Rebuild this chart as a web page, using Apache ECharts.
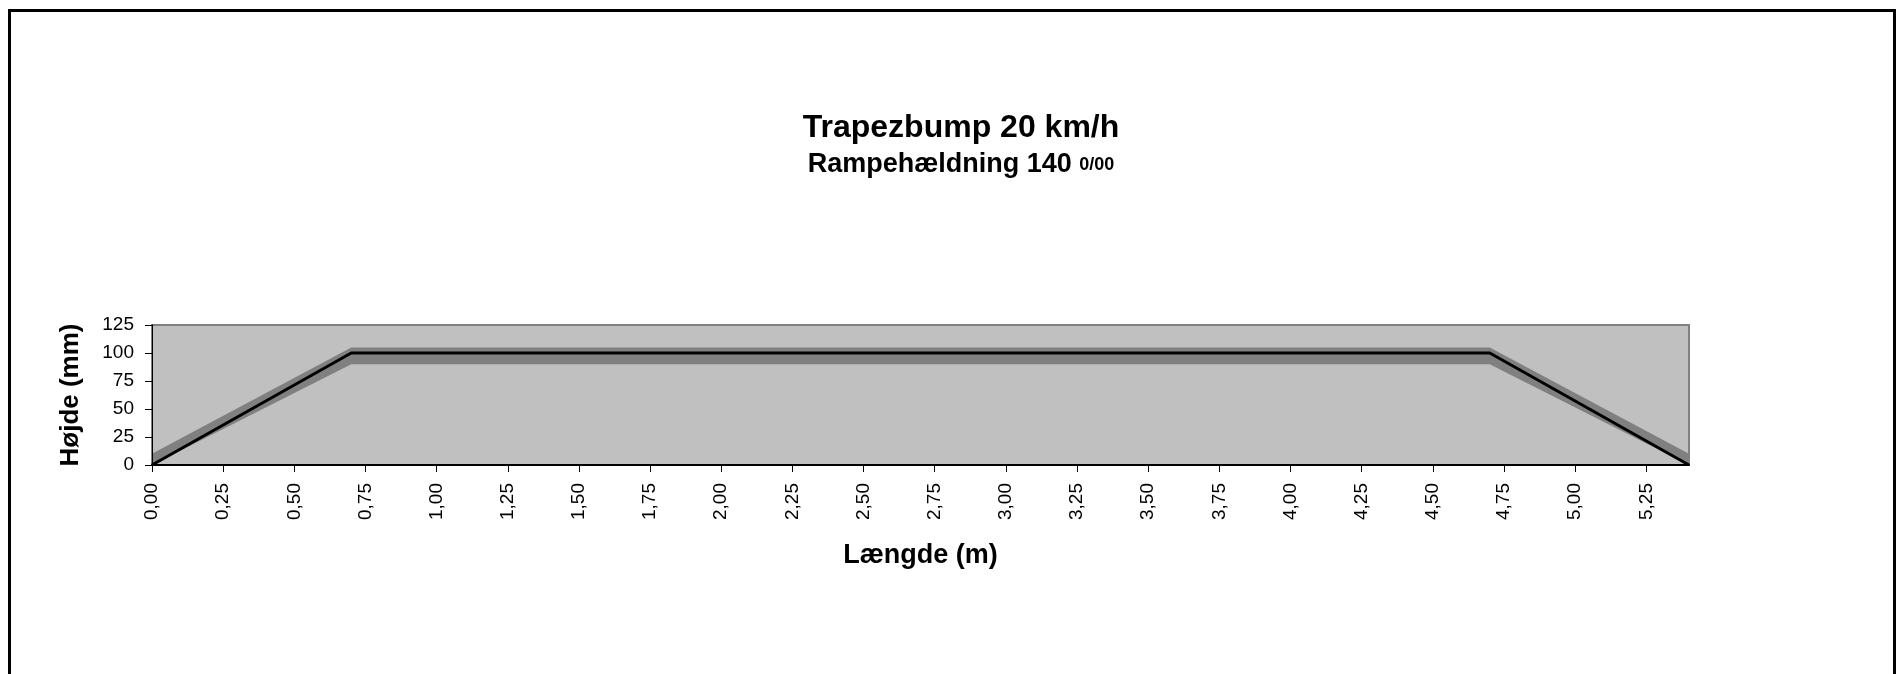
<!DOCTYPE html>
<html>
<head>
<meta charset="utf-8">
<title>Trapezbump 20 km/h</title>
<script src="https://cdn.jsdelivr.net/npm/echarts@6/dist/echarts.min.js"></script>
<style>
  html, body { margin: 0; padding: 0; background: #fff; }
  #main { width: 1896px; height: 674px; }
</style>
</head>
<body>
<div id="main"></div>
<script>
// profil af bumpet (m, mm)
const lengths = [0, 0.7, 4.7, 5.4];
const heights = [0, 100, 100, 0];
// tolerancebånd
const upperLimit = [10, 105, 105, 10];
const lowerLimit = [0, 90, 90, 0];
// akser
const xTicks = [0, 0.25, 0.5, 0.75, 1, 1.25, 1.5, 1.75, 2, 2.25, 2.5, 2.75, 3, 3.25, 3.5, 3.75, 4, 4.25, 4.5, 4.75, 5, 5.25];
const xMax = 5.4;
const yTicks = [0, 25, 50, 75, 100, 125];

const font = '"Liberation Sans", Arial, sans-serif';
const pairs = ys => lengths.map((x, i) => [x, ys[i]]);

let chart = echarts.init(document.getElementById('main'));

chart.setOption({
  animation: false,
  textStyle: { fontFamily: font, color: '#000' },
  title: [{
    text: 'Trapezbump 20 km/h',
    left: 956,
    top: 107,
    textAlign: 'center',
    textStyle: { fontSize: 32, fontWeight: 'bold', color: '#000', fontFamily: font }
  }, {
    text: '{a|Rampehældning 140 }{b|0/00}',
    left: 956,
    top: 144,
    textAlign: 'center',
    textStyle: {
      fontFamily: font,
      rich: {
        a: { fontSize: 27, fontWeight: 'bold', color: '#000', fontFamily: font, lineHeight: 29, verticalAlign: 'bottom' },
        b: { fontSize: 18, fontWeight: 'bold', color: '#000', fontFamily: font, lineHeight: 20, verticalAlign: 'bottom', padding: [0, 0, 4, 0] }
      }
    }
  }],
  graphic: [{
    type: 'rect',
    shape: { x: 9.5, y: 10.5, width: 1885, height: 720 },
    style: { fill: null, stroke: '#000', lineWidth: 3 },
    silent: true
  }],
  grid: {
    left: 152, top: 325, right: 207, bottom: 209,
    show: true,
    backgroundColor: '#c0c0c0',
    borderColor: '#808080',
    borderWidth: 2
  },
  xAxis: {
    type: 'value',
    min: 0, max: xMax,
    z: 5,
    name: 'Længde (m)',
    nameLocation: 'middle',
    nameGap: 77,
    nameTextStyle: { fontSize: 27, fontWeight: 'bold', color: '#000', fontFamily: font },
    axisLine: { lineStyle: { color: '#000', width: 2 } },
    axisTick: { show: true, length: 7, lineStyle: { color: '#000', width: 1 }, customValues: xTicks },
    axisLabel: {
      customValues: xTicks,
      rotate: 90,
      margin: 18,
      fontSize: 19,
      color: '#000',
      fontFamily: font,
      formatter: v => v.toFixed(2).replace('.', ',')
    },
    splitLine: { show: false }
  },
  yAxis: {
    type: 'value',
    min: 0, max: 125, interval: 25,
    z: 5,
    name: 'Højde (mm)',
    nameLocation: 'middle',
    nameGap: 68,
    nameTextStyle: { fontSize: 26, fontWeight: 'bold', color: '#000', fontFamily: font },
    axisLine: { show: true, lineStyle: { color: '#000', width: 1 } },
    axisTick: { show: true, length: 7, lineStyle: { color: '#000', width: 1 }, customValues: yTicks },
    axisLabel: { margin: 18, fontSize: 19, color: '#000', fontFamily: font },
    splitLine: { show: false }
  },
  series: [{
    name: 'Øvre grænse',
    type: 'line',
    data: pairs(upperLimit),
    symbol: 'none',
    lineStyle: { width: 0 },
    areaStyle: { color: '#808080', opacity: 1 },
    z: 1
  }, {
    name: 'Nedre grænse',
    type: 'line',
    data: pairs(lowerLimit),
    symbol: 'none',
    lineStyle: { width: 0 },
    areaStyle: { color: '#c0c0c0', opacity: 1 },
    z: 2
  }, {
    name: 'Profil',
    type: 'line',
    data: pairs(heights),
    symbol: 'none',
    lineStyle: { color: '#000', width: 3 },
    z: 3
  }]
});
</script>
</body>
</html>
